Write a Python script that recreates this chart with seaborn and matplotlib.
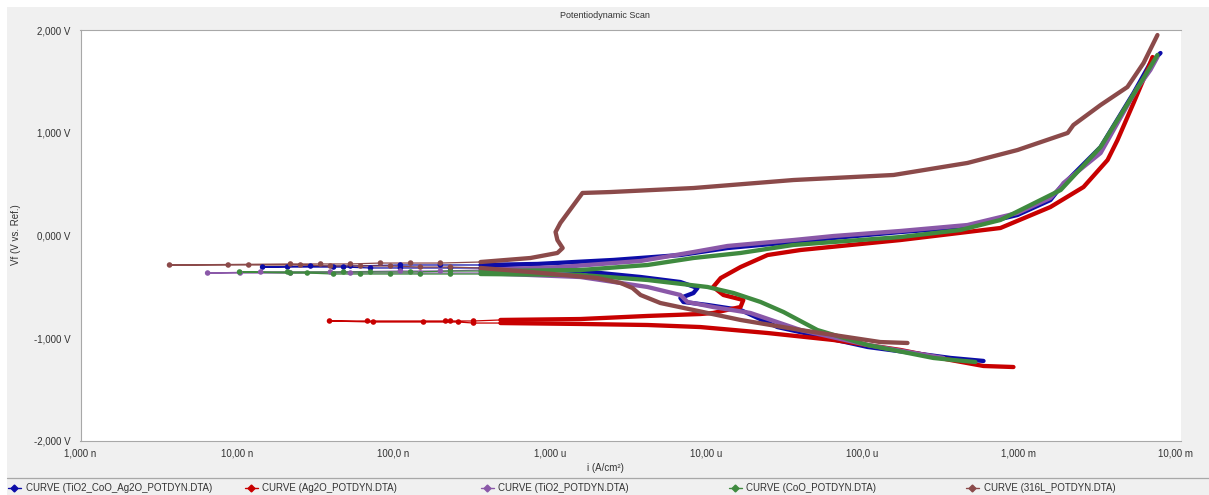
import numpy as np
import pandas as pd
import matplotlib
matplotlib.use("Agg")
import matplotlib.pyplot as plt
import matplotlib.ticker as mticker
from matplotlib.lines import Line2D
from matplotlib.patches import Rectangle
import seaborn as sns

# Potentiodynamic polarization scans: potential (V vs. Ref.) and current density (A/cm²),
# each ordered from the cathodic start of the scan to its anodic end.

curve_labels = [
    "CURVE (TiO2_CoO_Ag2O_POTDYN.DTA)",
    "CURVE (Ag2O_POTDYN.DTA)",
    "CURVE (TiO2_POTDYN.DTA)",
    "CURVE (CoO_POTDYN.DTA)",
    "CURVE (316L_POTDYN.DTA)",
]
curve_colors = ["#0c0ca8", "#c80000", "#8a58a8", "#3f8a3f", "#8b4a4a"]

tio2_coo_ag2o_v = [-1.221, -1.192, -1.085, -0.891, -0.725, -0.676, -0.647, -0.608, -0.560, -0.511,
                   -0.453, -0.404, -0.346, -0.316, -0.316,
                   -0.316, -0.316, -0.316, -0.307, -0.307, -0.307, -0.307,
                   -0.297, -0.297, -0.287, -0.287,
                   -0.287, -0.277, -0.238, -0.190, -0.122, -0.063, -0.024, 0.034, 0.083, 0.200,
                   0.345, 0.472, 0.861, 1.387, 1.679, 1.776]
tio2_coo_ag2o_i = [5.94e-4, 3.66e-4, 1.08e-4, 2.86e-5, 1.66e-5, 1.02e-5, 7.16e-6, 6.85e-6, 8.30e-6, 8.81e-6,
                   6.85e-6, 3.81e-6, 1.57e-6, 4.84e-7, 3.61e-7,
                   2.32e-7, 1.11e-7, 7.15e-8, 4.81e-8, 4.15e-8, 2.11e-8, 1.46e-8,
                   2.96e-8, 5.32e-8, 1.11e-7, 2.00e-7,
                   3.61e-7, 8.36e-7, 2.56e-6, 6.85e-6, 1.37e-5, 3.62e-5, 6.53e-5, 1.75e-4, 4.69e-4, 9.80e-4,
                   1.59e-3, 1.85e-3, 3.33e-3, 5.41e-3, 6.93e-3, 8.04e-3]

ag2o_v = [-1.280, -1.270, -1.212, -1.114, -1.017, -0.949, -0.891, -0.871, -0.861, -0.852,
          -0.852, -0.842, -0.842, -0.842, -0.832,
          -0.832, -0.832, -0.832, -0.832,
          -0.822, -0.813, -0.783, -0.764, -0.754, -0.696, -0.628, -0.579, -0.501, -0.414,
          -0.307, -0.190, -0.141, -0.044, 0.073, 0.277, 0.472, 0.735, 0.929, 1.290, 1.611, 1.737]
ag2o_i = [9.23e-4, 5.94e-4, 3.66e-4, 1.75e-4, 6.53e-5, 2.47e-5, 9.20e-6, 4.22e-6, 1.57e-6, 4.84e-7,
          3.26e-7, 2.61e-7, 1.56e-7, 7.46e-8, 3.91e-8,
          6.84e-8, 2.16e-7, 2.32e-7, 3.26e-7,
          4.84e-7, 1.57e-6, 4.22e-6, 9.20e-6, 1.11e-5, 1.66e-5, 1.73e-5, 1.29e-5, 1.11e-5, 1.24e-5,
          1.66e-5, 2.47e-5, 4.02e-5, 1.75e-4, 7.62e-4, 1.59e-3, 2.59e-3, 3.69e-3, 4.27e-3, 5.41e-3,
          6.64e-3, 7.15e-3]

tio2_v = [-1.192, -1.066, -0.920, -0.754, -0.696, -0.647, -0.579, -0.501, -0.404, -0.365,
          -0.365, -0.365, -0.365, -0.365, -0.365,
          -0.355, -0.355, -0.346, -0.346,
          -0.336, -0.307, -0.248, -0.161, -0.102, -0.044, -0.005, 0.044, 0.102, 0.219,
          0.365, 0.472, 0.511, 0.803, 1.319, 1.436, 1.611, 1.737]
tio2_i = [3.30e-4, 1.08e-4, 4.02e-5, 1.92e-5, 1.11e-5, 7.60e-6, 6.85e-6, 4.22e-6, 1.57e-6, 3.61e-7,
          1.49e-7, 5.32e-8, 2.20e-8, 1.05e-8, 6.50e-9,
          1.42e-8, 3.96e-8, 1.11e-7, 2.00e-7,
          3.61e-7, 1.17e-6, 3.81e-6, 8.30e-6, 1.37e-5, 3.62e-5, 6.53e-5, 1.75e-4, 4.69e-4, 9.80e-4,
          1.59e-3, 1.85e-3, 1.93e-3, 3.33e-3, 5.17e-3, 5.73e-3, 6.93e-3, 7.69e-3]

coo_v = [-1.231, -1.212, -1.192, -1.066, -0.920, -0.745, -0.647, -0.560, -0.501, -0.433,
         -0.384, -0.375,
         -0.375, -0.375, -0.375, -0.375, -0.375, -0.365, -0.365, -0.355,
         -0.355, -0.355, -0.355, -0.355, -0.346,
         -0.346, -0.336, -0.287, -0.219, -0.170, -0.092, -0.015, 0.054, 0.151, 0.443,
         0.861, 1.484, 1.757]
coo_i = [5.27e-4, 3.82e-4, 2.84e-4, 1.08e-4, 5.15e-5, 3.13e-5, 2.23e-5, 1.50e-5, 1.02e-5, 4.22e-6,
         1.57e-6, 3.61e-7,
         2.32e-7, 1.49e-7, 9.60e-8, 6.17e-8, 4.15e-8, 2.82e-8, 2.20e-8, 1.04e-8,
         2.11e-8, 4.81e-8, 7.15e-8, 1.29e-7, 2.32e-7,
         3.61e-7, 1.57e-6, 4.22e-6, 8.30e-6, 1.66e-5, 3.62e-5, 1.75e-4, 4.24e-4, 7.62e-4, 1.85e-3,
         3.33e-3, 5.99e-3, 7.69e-3]

ss316l_v = [-1.046, -1.037, -0.920, -0.822, -0.725, -0.657, -0.579, -0.511, -0.462, -0.414,
            -0.384, -0.355, -0.316,
            -0.307, -0.307, -0.297, -0.297, -0.297, -0.287, -0.287, -0.287, -0.287,
            -0.277, -0.277, -0.277, -0.268, -0.268, -0.268,
            -0.258, -0.219, -0.170, -0.122, -0.044, 0.034, 0.122, 0.414, 0.423, 0.462,
            0.540, 0.589, 0.706, 0.832, 0.998, 1.075, 1.270, 1.445, 1.679, 1.951]
ss316l_i = [1.94e-4, 1.30e-4, 4.02e-5, 1.66e-5, 8.30e-6, 5.10e-6, 3.81e-6, 3.38e-6, 2.84e-6, 2.02e-6,
            1.22e-6, 7.53e-7, 3.61e-7,
            2.32e-7, 1.49e-7, 9.60e-8, 6.17e-8, 3.96e-8, 2.55e-8, 1.19e-8, 8.80e-9, 3.71e-9,
            2.20e-8, 3.43e-8, 5.32e-8, 8.28e-8, 1.29e-7, 2.00e-7,
            3.61e-7, 7.53e-7, 1.12e-6, 1.21e-6, 1.12e-6, 1.09e-6, 1.17e-6, 1.62e-6, 2.45e-6, 8.30e-6,
            3.62e-5, 1.58e-4, 4.69e-4, 9.80e-4, 2.05e-3, 2.23e-3, 3.33e-3, 4.94e-3, 6.27e-3, 7.69e-3]

potentials = [tio2_coo_ag2o_v, ag2o_v, tio2_v, coo_v, ss316l_v]
currents = [tio2_coo_ag2o_i, ag2o_i, tio2_i, coo_i, ss316l_i]

x_ticks = [1e-9, 1e-8, 1e-7, 1e-6, 1e-5, 1e-4, 1e-3, 1e-2]
x_tick_labels = ["1,000 n", "10,00 n", "100,0 n", "1,000 u", "10,00 u", "100,0 u", "1,000 m", "10,00 m"]
y_ticks = [-2, -1, 0, 1, 2]
y_tick_labels = ["-2,000 V", "-1,000 V", "0,000 V", "1,000 V", "2,000 V"]

# Sparse, low-current points around the corrosion potential are shown as dots on a thin line
sparse_below = 3.5e-7

sns.set_style("white")
plt.rcParams["font.family"] = ["Liberation Sans", "DejaVu Sans"]

W, H = 1209, 495
fig = plt.figure(figsize=(W / 100, H / 100), dpi=100, facecolor="white")


def fx(px):
    return px / W


def fy(py):
    return 1 - py / H


fig.patches.append(Rectangle((fx(7), 0), 1 - fx(7), fy(7), transform=fig.transFigure,
                             facecolor="#f0f0f0", edgecolor="none", zorder=-5))
fig.add_artist(Line2D([fx(7), 1], [fy(478), fy(478)], color="#a8a8a8", lw=0.9,
                      transform=fig.transFigure, zorder=-4))

ax = fig.add_axes([fx(80.5), fy(441), fx(1181) - fx(80.5), fy(30) - fy(441)])
ax.set_zorder(1)
ax.set_facecolor("white")
ax.set_xscale("log")

for v, i, color in zip(potentials, currents, curve_colors):
    df = pd.DataFrame({"i": i, "v": v})
    # thin connecting line through the full scan
    sns.lineplot(data=df, x="i", y="v", sort=False, estimator=None, ax=ax,
                 color=color, lw=0.9, zorder=2)
    low = df[df["i"] < sparse_below]
    sns.scatterplot(data=low, x="i", y="v", ax=ax, color=color, s=16,
                    edgecolor="none", linewidth=0, zorder=3)
    dense = (df["i"] >= sparse_below).to_numpy()
    run_id = np.cumsum(np.r_[True, dense[1:] != dense[:-1]])
    for rid in np.unique(run_id[dense]):
        seg = df[run_id == rid]
        sns.lineplot(data=seg, x="i", y="v", sort=False, estimator=None, ax=ax,
                     color=color, lw=3.1, zorder=4, solid_capstyle="round",
                     solid_joinstyle="round")

ax.set_xlim(1e-9, 10 ** (-9 + 1100.5 / 156.4))
ax.set_ylim(-2, 2)
ax.set_xticks(x_ticks)
ax.set_xticklabels(x_tick_labels)
ax.xaxis.set_minor_locator(mticker.LogLocator(base=10, subs=np.arange(2, 10)))
ax.xaxis.set_minor_formatter(mticker.NullFormatter())
ax.set_yticks(y_ticks)
ax.set_yticklabels(y_tick_labels)
ax.yaxis.set_minor_locator(mticker.MultipleLocator(0.2))
ax.tick_params(axis="both", which="both", direction="out", length=2.4, width=0.6,
               color="#8a8a8a", labelsize=7, labelcolor="#333333")
ax.tick_params(axis="x", which="both", pad=3)
ax.tick_params(axis="y", which="both", pad=5)
ax.set_xlabel("")
ax.set_ylabel("")
for side in ["left", "top", "bottom"]:
    ax.spines[side].set_color("#a8a8a8")
    ax.spines[side].set_linewidth(0.8)
ax.spines["right"].set_visible(False)

fig.text(0.5, fy(15), "Potentiodynamic Scan", ha="center", va="center", fontsize=6.5, color="#333333")
fig.text(fx(605), fy(468), "i (A/cm²)", ha="center", va="center", fontsize=7, color="#333333")
fig.text(fx(16), fy(235), "Vf (V vs. Ref.)", ha="center", va="center", rotation=90,
         fontsize=7, color="#333333")

# one legend entry per column along the bottom strip
legend_x = [8, 245, 481, 729, 966]
for lx, c, lab in zip(legend_x, curve_colors, curve_labels):
    h = Line2D([], [], color=c, lw=1.0, marker="D", markersize=3.5)
    fig.legend([h], [lab], loc="center left", bbox_to_anchor=(fx(lx), fy(488)),
               frameon=False, fontsize=7, handlelength=1.3, handletextpad=0.5,
               borderaxespad=0, borderpad=0, labelcolor="#333333")

fig.savefig("out.png", dpi=100, facecolor=fig.get_facecolor())
